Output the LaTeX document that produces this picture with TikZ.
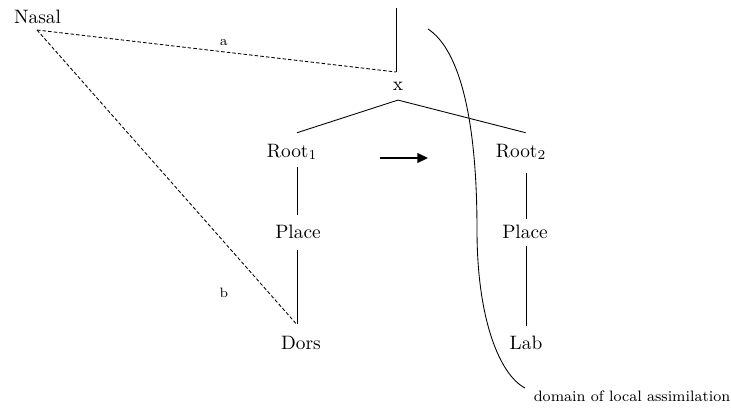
\documentclass[tikz,border=0pt]{standalone}
\usetikzlibrary{arrows.meta}
\begin{document}
\begin{tikzpicture}[x=0.516pt,y=-0.516pt,
  lbl/.style={inner sep=0pt,anchor=base,text height=6.83pt,text depth=0pt},
  tiny lbl/.style={inner sep=0pt,font=\scriptsize},
  stem/.style={line width=0.45pt},
  assoc/.style={dash pattern=on 1.8pt off 1.1pt,line width=0.45pt}]
\useasboundingbox (0,0) rectangle (731,407);

% feature nodes
\node[lbl] (nasal) at (37.5,23) {Nasal};
\node[lbl] (xs)    at (398,90) {x};
\node[lbl] (r1)    at (292,157) {Root$_1$};
\node[lbl] (p1)    at (298,238) {Place};
\node[lbl] (dors)  at (301,349) {Dors};
\node[lbl] (r2)    at (521,157) {Root$_2$};
\node[lbl] (p2)    at (525,238) {Place};
\node[lbl] (lab)   at (526,349) {Lab};

% upper stem and spreading links
\coordinate (top) at (396,8);
\coordinate (xa) at (396,72);
\coordinate (nasalfoot) at (37,30);
\draw[stem] (top) -- (xa);
\draw[assoc] (nasalfoot) -- (xa) node[tiny lbl,pos=0.52,above=3pt] {a};
\draw[assoc] (nasalfoot) -- ([yshift=5.5pt,xshift=-0.5pt]dors.north -| p1.south);
\node[tiny lbl] (blab) at (224,293) {b};

% x branches
\coordinate (xfoot) at ([yshift=-5pt]xs.south);
\draw[stem] (xfoot) -- ([yshift=5.5pt,xshift=2.6pt]r1.north);
\draw[stem] (xfoot) -- ([yshift=5.5pt,xshift=2.4pt]r2.north);

% left column
\draw[stem] ([yshift=-5pt,xshift=-0.5pt]r1.south -| p1) -- ([yshift=5pt,xshift=-0.5pt]p1.north);
\draw[stem] ([yshift=-6pt,xshift=-0.5pt]p1.south) -- ([yshift=6pt,xshift=-0.5pt]dors.north -| p1.south);

% right column
\draw[stem] ([yshift=-8pt]r2.south -| lab) -- ([yshift=3pt]p2.north -| lab);
\draw[stem] ([yshift=-4pt]p2.south -| lab) -- ([yshift=5pt]lab.north);

% rule arrow
\coordinate (arrS) at (380,158);
\coordinate (arrE) at (428,158);
\draw[line width=1pt,-{Triangle[length=5.5pt,width=5pt]}] (arrS) -- (arrE);

% domain bracket
\coordinate (brA) at (428,29);
\coordinate (brM) at (477,230);
\coordinate (brB) at (525,388);
\draw[stem] (brA) .. controls (460,50) and (477,120) .. (brM)
                  .. controls (477,320) and (500,375) .. (brB);
\node[inner sep=0pt,anchor=base,font=\fontsize{7.8pt}{9pt}\selectfont] (dom) at (632,401) {domain of local assimilation};
\end{tikzpicture}
\end{document}
